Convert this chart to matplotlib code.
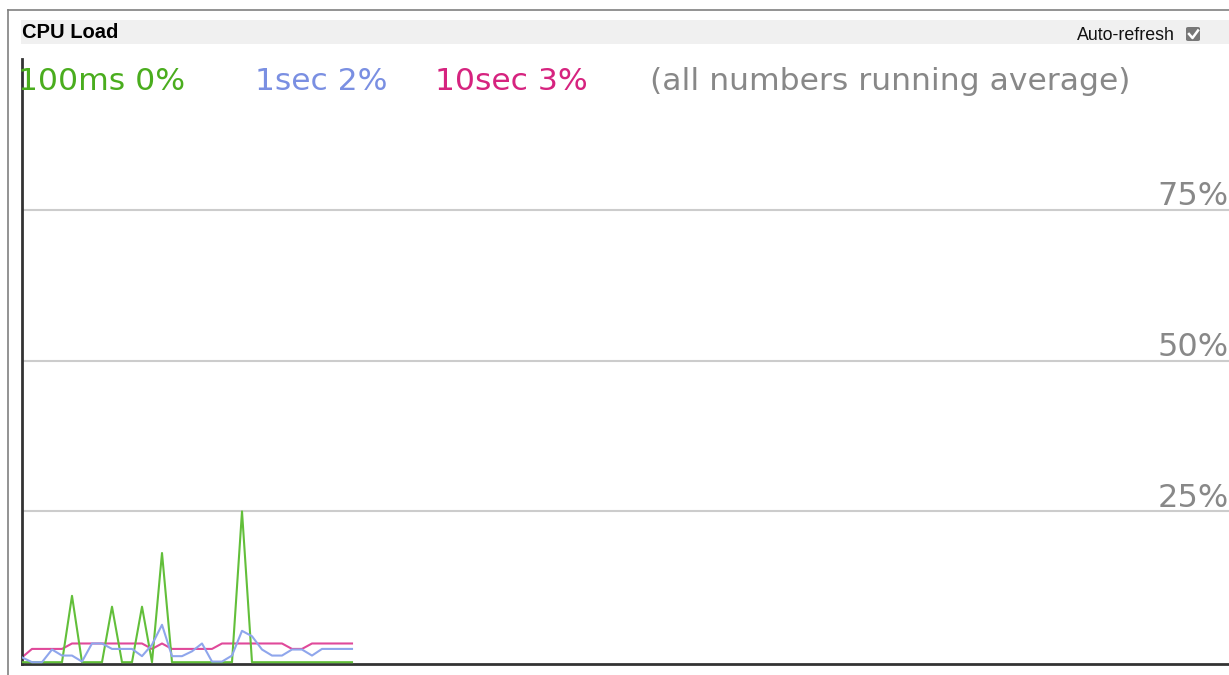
import numpy as np
import matplotlib.pyplot as plt
from matplotlib.patches import Rectangle, FancyBboxPatch
from matplotlib.lines import Line2D

# load samples, percent (oldest first), one sample per 100 ms slot
load_100ms = [0, 0, 0, 0, 0, 11.0, 0, 0, 0, 9.2, 0, 0, 9.2, 0, 18.1, 0, 0,
              0, 0, 0, 0, 0, 25.0, 0, 0, 0, 0, 0, 0, 0, 0, 0, 0, 0]
load_1sec = [0.8, 0, 0, 2.1, 1.1, 1.1, 0.1, 3.1, 3.1, 2.2, 2.2, 2.2, 1.0, 2.9,
             6.2, 1.0, 1.0, 1.8, 3.1, 0.1, 0.1, 1.1, 5.2, 4.3, 2.1, 1.1, 1.1,
             2.1, 2.1, 1.1, 2.2, 2.2, 2.2, 2.2]
load_10sec = [0.8, 2.2, 2.2, 2.2, 2.2, 3.1, 3.1, 3.1, 3.1, 3.1, 3.1, 3.1, 3.1,
              2.2, 3.1, 2.2, 2.2, 2.2, 2.2, 2.2, 3.1, 3.1, 3.1, 3.1, 3.1, 3.1,
              3.1, 2.2, 2.2, 3.1, 3.1, 3.1, 3.1, 3.1]
grid_levels = [25, 50, 75]
history_slots = 120.7

legend_items = [("100ms 0%", "#4aad1e", 18),
                ("1sec 2%", "#7a8fe2", 255),
                ("10sec 3%", "#d6237f", 435),
                ("(all numbers running average)", "#888888", 650)]

W, H = 1229, 675
fig = plt.figure(figsize=(W / 100, H / 100), dpi=100)


def fx(px):
    return px / W


def fy(py):
    return 1 - py / H


# panel frame and header band
fig.add_artist(Line2D([fx(8), 1], [fy(10), fy(10)], color="#808080", lw=1.2))
fig.add_artist(Line2D([fx(8), fx(8)], [fy(10), 0], color="#808080", lw=1.2))
fig.add_artist(Rectangle((fx(21), fy(44)), 1 - fx(21), fy(20) - fy(44),
                         color="#f0f0f0", lw=0))
fig.text(fx(22), fy(32.5), "CPU Load", family="Liberation Sans",
         weight="bold", fontsize=14.5, va="center", ha="left", color="black")
fig.text(fx(1175), fy(36), "Auto-refresh", family="Liberation Sans",
         fontsize=12.8, va="center", ha="right", color="#111111")
fig.add_artist(FancyBboxPatch((fx(1186), fy(41)), fx(14), fy(27) - fy(41),
                              boxstyle="round,pad=0,rounding_size=0.002",
                              color="#777777", lw=0))
fig.add_artist(Line2D([fx(1189), fx(1192.5), fx(1198)],
                      [fy(34), fy(38), fy(30.5)], color="white", lw=1.8))

for txt, col, x in legend_items:
    fig.text(fx(x), fy(90), txt, color=col, fontsize=22.6,
             family="DejaVu Sans", va="baseline", ha="left")

ax = fig.add_axes([fx(22), fy(664), fx(1229) - fx(22), fy(59) - fy(664)])
ax.set_xlim(0, history_slots)
ax.set_ylim(-0.3, 100)
for lvl in grid_levels:
    ax.axhline(lvl, color="#cccccc", lw=1.5, zorder=1)
    ax.annotate(f"{lvl}%", xy=(1, lvl), xycoords=("axes fraction", "data"),
                xytext=(0, 3.5), textcoords="offset points", ha="right",
                va="baseline", fontsize=23, color="#888888",
                family="DejaVu Sans")

x = np.arange(len(load_100ms))
ax.plot(x, load_100ms, color="#62bf3a", lw=1.5, zorder=3)
ax.plot(x, load_1sec, color="#8fa6ec", lw=1.5, zorder=4)
ax.plot(x, load_10sec, color="#e0499a", lw=1.5, zorder=2)

ax.set_xticks([])
ax.set_yticks([])
for side in ("top", "right"):
    ax.spines[side].set_visible(False)
for side in ("left", "bottom"):
    ax.spines[side].set_color("#333333")
    ax.spines[side].set_linewidth(2)
ax.patch.set_visible(False)

fig.savefig("out.png", dpi=100)
